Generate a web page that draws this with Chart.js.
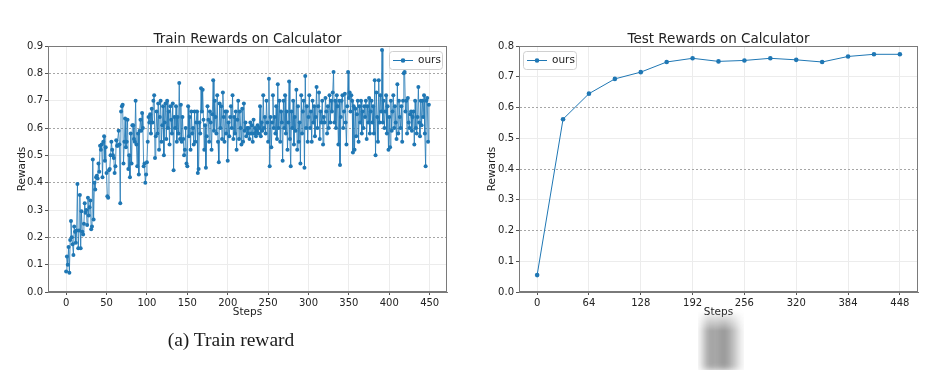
<!DOCTYPE html>
<html><head><meta charset="utf-8">
<script src="https://cdn.jsdelivr.net/npm/chart.js@4/dist/chart.umd.min.js"></script>
<style>
html,body{margin:0;padding:0;background:#fff;width:940px;height:370px;overflow:hidden;}
body{position:relative;}
.wrap{position:absolute;top:0;width:470px;height:330px;}
#w1{left:0;}
#w2{left:470px;}
#caption{position:absolute;left:0;width:462px;top:330px;line-height:20px;text-align:center;font-family:'Liberation Serif','DejaVu Serif',serif;font-size:19.5px;color:#1a1a1a;}
#blur{position:absolute;left:698px;top:310px;width:46px;height:60px;
 background:linear-gradient(to right,rgba(150,150,150,0) 0%,rgba(140,140,140,0.85) 25%,rgba(165,165,165,0.9) 40%,rgba(135,135,135,0.9) 55%,rgba(160,160,160,0.85) 70%,rgba(150,150,150,0) 100%);
 -webkit-mask-image:linear-gradient(to bottom,transparent 0%,#000 35%,#000 100%);mask-image:linear-gradient(to bottom,transparent 0%,#000 35%,#000 100%);
 filter:blur(3px);}
</style></head>
<body>
<div class="wrap" id="w1"><canvas id="c1" width="470" height="330"></canvas></div>
<div class="wrap" id="w2"><canvas id="c2" width="470" height="330"></canvas></div>
<div id="caption">(a) Train reward</div>
<div id="blur"></div>
<script>
// ---------- data ----------
const trainRewards = [
0.075,0.13,0.10,0.165,0.07,0.19,0.26,0.20,0.175,0.135,
0.24,0.22,0.18,0.225,0.395,0.16,0.225,0.355,0.16,0.295,
0.22,0.21,0.25,0.325,0.29,0.30,0.245,0.345,0.28,0.31,
0.335,0.23,0.24,0.485,0.265,0.40,0.375,0.42,0.425,0.415,
0.47,0.44,0.535,0.52,0.54,0.42,0.55,0.57,0.48,0.53,
0.435,0.35,0.345,0.445,0.45,0.50,0.55,0.52,0.50,0.49,
0.435,0.46,0.555,0.535,0.535,0.59,0.54,0.325,0.66,0.68,
0.685,0.47,0.55,0.635,0.53,0.55,0.63,0.45,0.50,0.42,
0.58,0.47,0.61,0.61,0.56,0.55,0.70,0.54,0.46,0.58,
0.43,0.59,0.63,0.59,0.655,0.60,0.46,0.47,0.40,0.43,
0.475,0.55,0.64,0.62,0.65,0.58,0.67,0.62,0.70,0.72,
0.49,0.57,0.66,0.58,0.69,0.52,0.64,0.70,0.55,0.61,
0.68,0.50,0.62,0.69,0.56,0.70,0.60,0.66,0.54,0.68,
0.63,0.58,0.69,0.445,0.64,0.60,0.68,0.55,0.64,0.58,
0.765,0.56,0.685,0.55,0.64,0.56,0.50,0.52,0.60,0.47,
0.46,0.68,0.57,0.64,0.52,0.66,0.58,0.60,0.54,0.66,
0.55,0.62,0.66,0.435,0.45,0.62,0.58,0.745,0.66,0.74,
0.63,0.52,0.61,0.455,0.57,0.68,0.63,0.55,0.66,0.62,
0.52,0.65,0.775,0.59,0.70,0.64,0.58,0.72,0.55,0.475,
0.69,0.60,0.68,0.56,0.73,0.64,0.55,0.66,0.58,0.66,
0.48,0.62,0.57,0.64,0.68,0.60,0.72,0.56,0.64,0.58,
0.66,0.52,0.63,0.70,0.56,0.66,0.60,0.54,0.67,0.55,
0.69,0.59,0.62,0.57,0.60,0.58,0.60,0.56,0.62,0.58,
0.61,0.55,0.63,0.58,0.60,0.57,0.59,0.61,0.58,0.60,
0.68,0.57,0.62,0.59,0.72,0.60,0.64,0.58,0.70,0.62,
0.55,0.78,0.46,0.64,0.53,0.62,0.72,0.60,0.64,0.58,
0.68,0.56,0.76,0.60,0.70,0.55,0.66,0.62,0.48,0.70,
0.60,0.72,0.58,0.66,0.52,0.62,0.77,0.56,0.46,0.66,
0.60,0.70,0.54,0.64,0.59,0.74,0.52,0.68,0.55,0.62,
0.47,0.72,0.58,0.66,0.70,0.455,0.79,0.60,0.68,0.55,
0.64,0.72,0.60,0.66,0.55,0.70,0.62,0.68,0.57,0.64,
0.75,0.60,0.68,0.73,0.56,0.66,0.62,0.70,0.54,0.64,
0.62,0.71,0.66,0.58,0.68,0.60,0.72,0.62,0.70,0.66,
0.73,0.805,0.62,0.70,0.60,0.72,0.68,0.54,0.70,0.465,
0.64,0.70,0.72,0.60,0.66,0.725,0.62,0.54,0.68,0.805,
0.71,0.73,0.66,0.72,0.70,0.51,0.68,0.52,0.67,0.57,
0.65,0.70,0.55,0.68,0.62,0.70,0.58,0.66,0.60,0.68,
0.64,0.70,0.56,0.68,0.62,0.71,0.58,0.66,0.70,0.62,
0.68,0.58,0.775,0.50,0.73,0.64,0.55,0.775,0.62,0.72,
0.66,0.885,0.62,0.70,0.60,0.66,0.72,0.58,0.68,0.52,
0.64,0.53,0.70,0.59,0.66,0.72,0.60,0.68,0.62,0.56,
0.76,0.58,0.70,0.64,0.60,0.68,0.55,0.70,0.80,0.805,
0.66,0.70,0.58,0.71,0.62,0.60,0.65,0.66,0.59,0.64,
0.66,0.54,0.70,0.60,0.58,0.64,0.75,0.62,0.57,0.70,
0.61,0.70,0.64,0.72,0.58,0.46,0.70,0.71,0.55,0.685
];
const trainXTicks = [0,50,100,150,200,250,300,350,400,450];
const trainYTicks = [0,0.1,0.2,0.3,0.4,0.5,0.6,0.7,0.8,0.9];

const testSteps   = [0,32,64,96,128,160,192,224,256,288,320,352,384,416,448];
const testRewards = [0.055,0.562,0.645,0.693,0.715,0.748,0.760,0.750,0.753,0.760,0.755,0.748,0.766,0.773,0.773];
const testXTicks = [0,64,128,192,256,320,384,448];
const testYTicks = [0,0.1,0.2,0.3,0.4,0.5,0.6,0.7,0.8];

const seriesName = 'ours';
// ---------- style ----------
const FONT = "'DejaVu Sans', sans-serif";
const BLUE = '#1f77b4';
const TXT = '#222';
Chart.defaults.font.family = FONT;
Chart.defaults.color = TXT;

const framePlugin = {
  id:'frame',
  afterDraw(chart, args, opts){
    const {ctx, chartArea:a} = chart;
    ctx.save();
    ctx.strokeStyle = '#7a7a7a'; ctx.lineWidth = 1;
    ctx.strokeRect(Math.round(a.left)+0.5, Math.round(a.top)+0.5, Math.round(a.right-a.left)-1, Math.round(a.bottom-a.top)-1);
    // title centred over the plot area
    ctx.fillStyle = TXT; ctx.font = "13.5px " + FONT; ctx.textAlign = 'center'; ctx.textBaseline = 'middle';
    ctx.fillText(opts.title, (a.left + a.right) / 2, a.top - 7);
    // legend
    const w = 53, h = 18;
    const x0 = opts.align === 'left' ? a.left + 4 : a.right - 5 - w;
    const y0 = a.top + 5;
    ctx.fillStyle = 'rgba(255,255,255,0.85)';
    ctx.strokeStyle = '#d0d0d0';
    ctx.beginPath();
    if (ctx.roundRect) ctx.roundRect(x0+0.5, y0+0.5, w, h, 3); else ctx.rect(x0+0.5,y0+0.5,w,h);
    ctx.fill(); ctx.stroke();
    const cy = y0 + h/2 + 0.5;
    ctx.strokeStyle = BLUE; ctx.lineWidth = 1;
    ctx.beginPath(); ctx.moveTo(x0+4, cy); ctx.lineTo(x0+24, cy); ctx.stroke();
    ctx.fillStyle = BLUE;
    ctx.beginPath(); ctx.arc(x0+14, cy, 2.3, 0, Math.PI*2); ctx.fill();
    ctx.fillStyle = TXT; ctx.font = "10.5px " + FONT; ctx.textBaseline = 'middle'; ctx.textAlign='left';
    ctx.fillText(seriesName, x0+29, cy);
    ctx.restore();
  }
};

function makeChart(id, cfg){
  const major = v => { const k = Math.round(v*10); return k % 2 === 0 && k !== 0 && Math.abs(v - cfg.yMax) > 1e-9; };
  return new Chart(document.getElementById(id), {
    type:'line',
    data:{ datasets:[{
      label: seriesName,
      data: cfg.xs.map((x,i)=>({x:x, y:cfg.ys[i]})),
      borderColor: cfg.lineColor, borderWidth: 1,
      pointRadius: cfg.pr, pointHoverRadius: cfg.pr, pointBackgroundColor: BLUE, pointBorderWidth: 0,
      tension: 0, fill:false
    }]},
    plugins:[framePlugin],
    options:{
      responsive:false, animation:false, devicePixelRatio:1,
      layout:{ padding:{ left:0, right:cfg.padRight, top:46, bottom:0 } },
      plugins:{
        legend:{ display:false },
        tooltip:{ enabled:false },
        title:{ display:false },
        frame:{ align: cfg.legendAlign, title: cfg.title }
      },
      scales:{
        x:{
          type:'linear', min:cfg.xMin, max:cfg.xMax,
          afterBuildTicks: s => { s.ticks = cfg.xTicks.map(v=>({value:v})); },
          afterFit: s => { s.height = 38; },
          ticks:{ font:{ family:FONT, size:10 }, color:TXT, padding:2, maxRotation:0, autoSkip:false },
          grid:{ color:'#ececec', lineWidth:1, tickLength:3, tickColor:'#555' },
          border:{ color:'#7a7a7a' },
          title:{ display:true, text:'Steps', color:TXT, font:{ family:FONT, size:10.5, lineHeight:1.15 }, padding:{ top:0, bottom:12 } }
        },
        y:{
          type:'linear', min:0, max:cfg.yMax,
          afterBuildTicks: s => { s.ticks = cfg.yTicks.map(v=>({value:v})); },
          afterFit: s => { s.width = cfg.yWidth; },
          ticks:{ font:{ family:FONT, size:10 }, color:TXT, padding:2, callback: v => Number(v).toFixed(1) },
          grid:{ color: c => (c.type==='tick' && c.tick && major(c.tick.value)) ? '#a6a6a6' : '#ececec', lineWidth:1, tickLength:3, tickColor:'#555' },
          border:{ color:'#7a7a7a', dash: c => (c.type==='tick' && c.tick && major(c.tick.value)) ? [2,2] : [] },
          title:{ display:true, text:'Rewards', color:TXT, font:{ family:FONT, size:10.5, lineHeight:1.15 }, padding:{ top:16, bottom:0 } }
        }
      }
    }
  });
}

makeChart('c1', {
  title:'Train Rewards on Calculator',
  xs: trainRewards.map((_,i)=>i), ys: trainRewards,
  xMin:-22.45, xMax:471.45, xTicks: trainXTicks,
  yMax:0.9, yTicks: trainYTicks,
  padRight:23, yWidth:48, pr:2, lineColor:'rgba(31,119,180,0.8)', legendAlign:'right'
});
makeChart('c2', {
  title:'Test Rewards on Calculator',
  xs: testSteps, ys: testRewards,
  xMin:-22.4, xMax:470.4, xTicks: testXTicks,
  yMax:0.8, yTicks: testYTicks,
  padRight:22, yWidth:49, pr:2.3, lineColor:BLUE, legendAlign:'left'
});
</script>
</body></html>
